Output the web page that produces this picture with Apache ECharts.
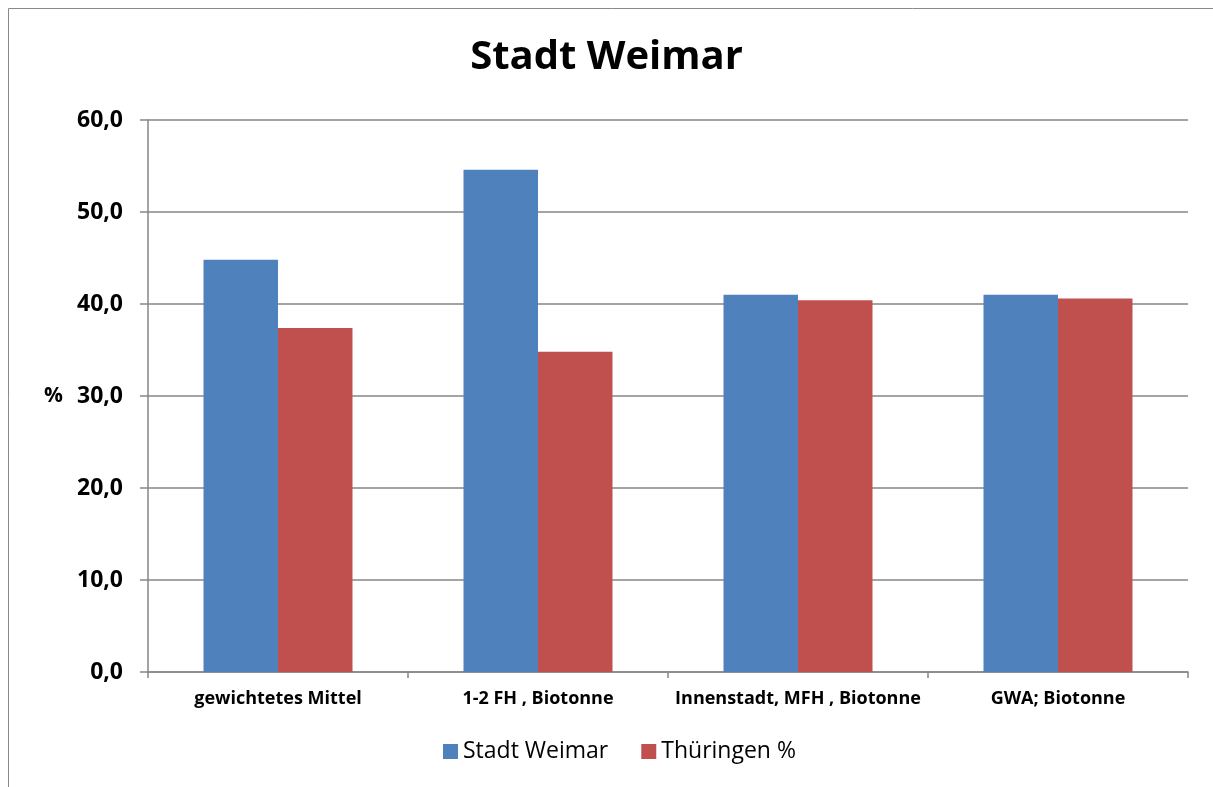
<!DOCTYPE html>
<html>
<head>
<meta charset="utf-8">
<script src="https://cdn.jsdelivr.net/npm/echarts@6/dist/echarts.min.js"></script>
<style>
html,body{margin:0;padding:0;background:#fff;}
#c{width:1213px;height:787px;}
</style>
</head>
<body>
<div id="c"></div>
<script>
const categories = ['gewichtetes Mittel', '1-2 FH , Biotonne', 'Innenstadt, MFH , Biotonne', 'GWA; Biotonne'];
const weimar = [44.8, 54.6, 41.0, 41.0];
const thueringen = [37.4, 34.8, 40.4, 40.6];
const seriesNames = ['Stadt Weimar', 'Thüringen %'];

const FONT = '"Open Sans", Lato, sans-serif';
const chart = echarts.init(document.getElementById('c'));
chart.setOption({
  animation: false,
  backgroundColor: '#fff',
  textStyle: { fontFamily: FONT },
  title: {
    text: 'Stadt Weimar',
    left: 'center',
    top: 33,
    textStyle: { fontSize: 40, fontWeight: 'bold', color: '#000', fontFamily: FONT }
  },
  graphic: [{
    type: 'rect',
    shape: { x: 8.5, y: 8.5, width: 1230, height: 820 },
    style: { fill: 'none', stroke: '#898989', lineWidth: 1 },
    silent: true
  }],
  legend: {
    bottom: 19,
    left: 438,
    itemWidth: 15,
    itemHeight: 15,
    itemGap: 33,
    icon: 'rect',
    textStyle: { fontSize: 23, color: '#000', fontFamily: FONT },
    data: seriesNames
  },
  grid: { left: 148, right: 25, top: 120, bottom: 115, containLabel: false },
  xAxis: {
    type: 'category',
    data: categories,
    axisLine: { lineStyle: { color: '#868686', width: 1.5 } },
    axisTick: { show: true, length: 6, lineStyle: { color: '#868686', width: 1.5 } },
    axisLabel: { fontSize: 18, fontWeight: 'bold', color: '#000', margin: 18, fontFamily: FONT, interval: 0 }
  },
  yAxis: {
    type: 'value',
    min: 0, max: 60, interval: 10,
    name: '%',
    nameLocation: 'middle',
    nameRotate: 0,
    nameGap: 85,
    nameTextStyle: { fontSize: 21, fontWeight: 'bold', color: '#000', fontFamily: FONT },
    axisLine: { show: true, lineStyle: { color: '#868686', width: 1.5 } },
    axisTick: { show: true, length: 8, lineStyle: { color: '#868686', width: 1.5 } },
    axisLabel: { fontSize: 23, fontWeight: 'bold', color: '#000', margin: 25, fontFamily: FONT,
      formatter: v => v.toFixed(1).replace('.', ',') },
    splitLine: { lineStyle: { color: '#868686', width: 1.5 } }
  },
  series: [
    { name: seriesNames[0], type: 'bar', data: weimar, barGap: '0%', barCategoryGap: '42.7%',
      itemStyle: { color: '#4f81bd' } },
    { name: seriesNames[1], type: 'bar', data: thueringen, barGap: '0%', barCategoryGap: '42.7%',
      itemStyle: { color: '#c0504d' } }
  ]
});
</script>
</body>
</html>
